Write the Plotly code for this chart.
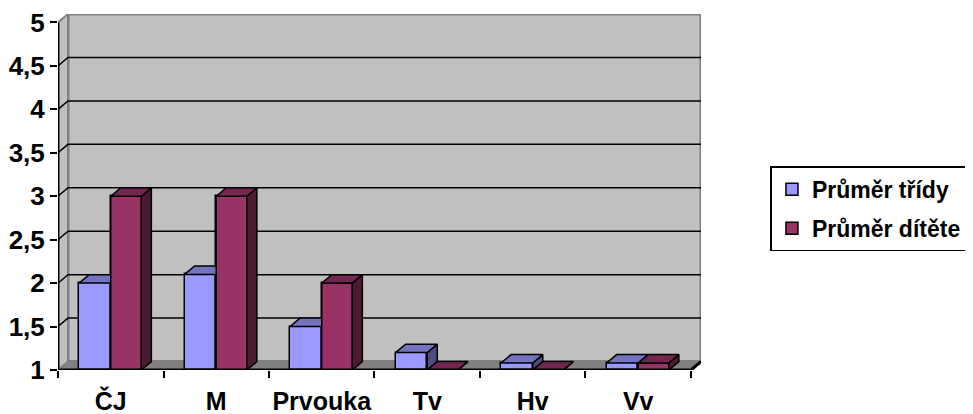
import plotly.graph_objects as go

# ---------------- data ----------------
categories = ["ČJ", "M", "Prvouka", "Tv", "Hv", "Vv"]
series_names = ["Průměr třídy", "Průměr dítěte"]
prumer_tridy = [2.0, 2.1, 1.5, 1.2, 1.08, 1.08]
prumer_ditete = [3.0, 3.0, 2.0, 1.0, 1.0, 1.08]
y_tick_values = [1, 1.5, 2, 2.5, 3, 3.5, 4, 4.5, 5]
y_tick_labels = ["1", "1,5", "2", "2,5", "3", "3,5", "4", "4,5", "5"]

# ---------------- styling / 3D geometry ----------------
BASE = 1.0
YTOP = 5.0
DX = 0.095   # depth offset in x (category units)
DY = 0.097   # depth offset in y (value units)
XMIN = -0.5
XMAX = len(categories) - 0.5
FONT = "Liberation Sans, Arial, sans-serif"

series_style = [
    dict(offset=-0.30, width=0.30, front="#9999FF", top="#7373BF", side="#4D4D80"),
    dict(offset=0.0, width=0.29, front="#993366", top="#732650", side="#4D1A33"),
]
series_values = [prumer_tridy, prumer_ditete]

fig = go.Figure()
xs = list(range(len(categories)))

# front faces as real bars
for name, vals, st in zip(series_names, series_values, series_style):
    fig.add_trace(go.Bar(
        x=xs, y=[v - BASE for v in vals], base=BASE,
        offset=st["offset"], width=st["width"], name=name,
        marker=dict(color=st["front"], line=dict(color="black", width=1.5)),
        legendgroup=name,
    ))


def poly_trace(polys, color):
    px, py = [], []
    for p in polys:
        for (a, b) in p + [p[0]]:
            px.append(a)
            py.append(b)
        px.append(None)
        py.append(None)
    return go.Scatter(x=px, y=py, mode="lines", fill="toself", fillcolor=color,
                      line=dict(color="black", width=1.5), hoverinfo="skip",
                      showlegend=False)


# 3D faces, painter's order: series by series (left to right within category)
for k, (vals, st) in enumerate(zip(series_values, series_style)):
    fronts, sides, tops = [], [], []
    for i, v in enumerate(vals):
        L = xs[i] + st["offset"]
        R = L + st["width"]
        fronts.append([(L, BASE), (R, BASE), (R, v), (L, v)])
        sides.append([(R, BASE), (R + DX, BASE + DY), (R + DX, v + DY), (R, v)])
        tops.append([(L, v), (R, v), (R + DX, v + DY), (L + DX, v + DY)])
    if k > 0:
        fig.add_trace(poly_trace(fronts, st["front"]))
    fig.add_trace(poly_trace(sides, st["side"]))
    fig.add_trace(poly_trace(tops, st["top"]))


def path(points):
    return "M " + " L ".join(f"{a},{b}" for a, b in points) + " Z"


def openpath(points):
    return "M " + " L ".join(f"{a},{b}" for a, b in points)


shapes = []
# back wall
shapes.append(dict(type="rect", xref="x", yref="y", layer="below",
                   x0=XMIN + DX, x1=XMAX + DX, y0=BASE + DY, y1=YTOP + DY,
                   fillcolor="#C0C0C0", line=dict(color="#808080", width=3)))
# left wall
shapes.append(dict(type="path", xref="x", yref="y", layer="below",
                   path=path([(XMIN, BASE), (XMIN, YTOP), (XMIN + DX, YTOP + DY), (XMIN + DX, BASE + DY)]),
                   fillcolor="#C0C0C0", line=dict(color="#808080", width=2)))
# floor
shapes.append(dict(type="path", xref="x", yref="y", layer="below",
                   path=path([(XMIN, BASE), (XMAX, BASE), (XMAX + DX, BASE + DY), (XMIN + DX, BASE + DY)]),
                   fillcolor="#808080", line=dict(color="#808080", width=1)))
# gridlines (on walls)
for v in y_tick_values[1:-1]:
    shapes.append(dict(type="path", xref="x", yref="y", layer="below",
                       path=openpath([(XMIN, v), (XMIN + DX, v + DY), (XMAX + DX, v + DY)]),
                       line=dict(color="black", width=1.5)))
# axis lines
shapes.append(dict(type="path", xref="x", yref="y", layer="above",
                   path=openpath([(XMIN, YTOP), (XMIN, BASE), (XMAX, BASE), (XMAX + DX, BASE + DY)]),
                   line=dict(color="black", width=3)))

# page body has an 8px default margin, so the figure is 8px smaller
fig.update_layout(
    width=965, height=406,
    margin=dict(l=50, r=272, t=6, b=44, pad=0, autoexpand=False),
    paper_bgcolor="white", plot_bgcolor="white",
    shapes=shapes,
    showlegend=True,
    legend=dict(x=1.108, y=0.572, xanchor="left", yanchor="top",
                bgcolor="white", bordercolor="black", borderwidth=1.5,
                font=dict(family=FONT, size=23, color="black", weight="bold"),
                traceorder="grouped", tracegroupgap=6),
    xaxis=dict(range=[XMIN, XMAX + DX], tickmode="array", tickvals=xs, ticktext=categories,
               ticks="", showgrid=False, zeroline=False, showline=False, automargin=False,
               tickfont=dict(family=FONT, size=25, color="black", weight="bold"),
               ticklabelstandoff=14, ticklabeloverflow="allow",
               minor=dict(tickmode="array", tickvals=[i - 0.5 for i in range(len(categories) + 1)],
                          ticks="outside", ticklen=7, tickwidth=1.5, tickcolor="black", showgrid=False)),
    yaxis=dict(range=[BASE, YTOP + DY], tickmode="array", tickvals=y_tick_values, ticktext=y_tick_labels,
               ticks="outside", ticklen=7, tickwidth=1.5, tickcolor="black", automargin=False,
               showgrid=False, zeroline=False, showline=False, ticklabeloverflow="allow",
               tickfont=dict(family=FONT, size=26, color="black", weight="bold")),
    bargap=0,
)

fig.write_html("out.html")
